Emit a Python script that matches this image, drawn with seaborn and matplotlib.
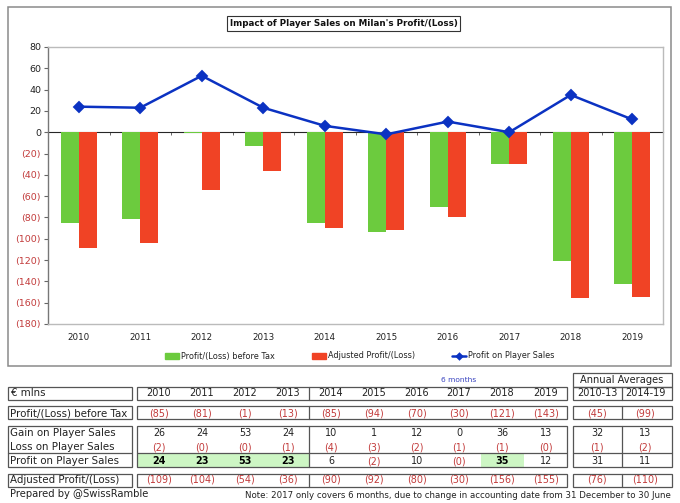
import pandas as pd
import numpy as np
import matplotlib
matplotlib.use('Agg')
import matplotlib.pyplot as plt
from matplotlib.patches import Rectangle
import seaborn as sns

# data
years = ['2010', '2011', '2012', '2013', '2014', '2015', '2016', '2017', '2018', '2019']
profit_before_tax = [-85, -81, -1, -13, -85, -94, -70, -30, -121, -142]
adjusted_profit = [-109, -104, -54, -36, -90, -92, -80, -30, -156, -155]
player_sales = [24, 23, 53, 23, 6, -2, 10, 0, 35, 12]
y_ticks = [80, 60, 40, 20, 0, -20, -40, -60, -80, -100, -120, -140, -160, -180]

# table rows, last two columns are the averages
row_labels = ['Profit/(Loss) before Tax', 'Gain on Player Sales', 'Loss on Player Sales',
              'Profit on Player Sales', 'Adjusted Profit/(Loss)']
avg_headers = ['2010-13', '2014-19']
row_pl = ['(85)', '(81)', '(1)', '(13)', '(85)', '(94)', '(70)', '(30)', '(121)', '(143)', '(45)', '(99)']
row_gain = ['26', '24', '53', '24', '10', '1', '12', '0', '36', '13', '32', '13']
row_loss = ['(2)', '(0)', '(0)', '(1)', '(4)', '(3)', '(2)', '(1)', '(1)', '(0)', '(1)', '(2)']
row_profit = ['24', '23', '53', '23', '6', '(2)', '10', '(0)', '35', '12', '31', '11']
row_adj = ['(109)', '(104)', '(54)', '(36)', '(90)', '(92)', '(80)', '(30)', '(156)', '(155)', '(76)', '(110)']
bold_years = ['2010', '2011', '2012', '2013', '2018']

GREEN = '#6CCB3E'
RED = '#F04325'
BLUE = '#0B32C2'
TXT_RED = '#C23B3B'
TXT = '#222222'
EDGE = '#555555'

sns.set_style('white')
plt.rcParams['font.family'] = ['DejaVu Sans']

W, H = 680, 503
fig = plt.figure(figsize=(W / 100, H / 100), dpi=100)

# overlay in pixel coords for frame and table
bg = fig.add_axes([0, 0, 1, 1])
bg.set_xlim(0, W)
bg.set_ylim(H, 0)
bg.axis('off')

def box(x0, y0, x1, y1, fc='none', ec=EDGE, lw=0.9, z=2):
    bg.add_patch(Rectangle((x0, y0), x1 - x0, y1 - y0, facecolor=fc, edgecolor=ec, linewidth=lw, zorder=z))

box(8, 7, 671, 366, ec='#8a8a8a', lw=1.1)

# main chart
ax = fig.add_axes([48 / W, 1 - 324 / H, 615 / W, 277 / H])
ax.patch.set_alpha(0)
df = pd.DataFrame({
    'year': years * 2,
    'value': profit_before_tax + adjusted_profit,
    'series': ['Profit/(Loss) before Tax'] * 10 + ['Adjusted Profit/(Loss)'] * 10,
})
sns.barplot(data=df, x='year', y='value', hue='series', palette=[GREEN, RED],
            width=0.585, gap=0, saturation=1, linewidth=0, ax=ax, legend=False, errorbar=None)
sns.pointplot(x=years, y=player_sales, color=BLUE, markers='D', markersize=5, linewidth=1.8,
              ax=ax, label='Profit on Player Sales', errorbar=None)
line_h = ax.get_legend_handles_labels()[0]
if ax.get_legend() is not None:
    ax.get_legend().remove()
ax.set_xlim(-0.5, 9.5)
ax.set_ylim(-180, 80)
ax.set_xlabel('')
ax.set_ylabel('')
ax.set_yticks(y_ticks)
ax.set_yticklabels([str(v) if v >= 0 else f'({-v})' for v in y_ticks], fontsize=6.8, color=TXT)
for lab, v in zip(ax.get_yticklabels(), y_ticks):
    if v < 0:
        lab.set_color(TXT_RED)
ax.tick_params(axis='y', left=True, length=3, width=0.8, color='#666666', pad=2)
ax.tick_params(axis='x', bottom=False, labelsize=6.3, labelcolor=TXT, pad=3)
for s in ['top', 'right', 'bottom']:
    ax.spines[s].set_color('#bbbbbb')
    ax.spines[s].set_linewidth(1)
ax.spines['left'].set_color('#777777')
ax.spines['left'].set_linewidth(1)

# zero line with the ticks between years
zero_axis = ax.secondary_xaxis(180 / 260)
zero_axis.set_xticks(np.arange(-0.5, 10, 1))
zero_axis.set_xticklabels([])
zero_axis.tick_params(direction='in', length=2, width=0.7, color='#666666')
zero_axis.spines['bottom'].set_color('#777777')
zero_axis.spines['bottom'].set_linewidth(0.9)

bars = [Rectangle((0, 0), 1, 1, color=GREEN), Rectangle((0, 0), 1, 1, color=RED)]
fig.legend(bars + line_h, ['Profit/(Loss) before Tax', 'Adjusted Profit/(Loss)', 'Profit on Player Sales'],
           loc='center', bbox_to_anchor=(359.5 / W, 1 - 356 / H), ncols=3, frameon=False,
           fontsize=5.9, labelcolor=TXT, handlelength=1.75, handleheight=0.7, handletextpad=0.2,
           columnspacing=4.5, borderpad=0, markerscale=0.6)

# title
bg.text(343.5, 23.5, "Impact of Player Sales on Milan's Profit/(Loss)", fontsize=6.3, fontweight='bold',
        ha='center', va='center', color='#111111',
        bbox=dict(boxstyle='square,pad=0.3', fc='white', ec='#333333', lw=0.8), zorder=5)

# table
col_x = [159, 202, 245, 288, 331, 374, 417, 459, 502, 546, 597, 645]
row_y = [413, 433, 447, 461, 480]
rows = [row_pl, row_gain, row_loss, row_profit, row_adj]
FS = 6.9

# green highlight
bg.add_patch(Rectangle((137, 453), 172, 14, facecolor='#CDF6C4', edgecolor='none', zorder=1))
bg.add_patch(Rectangle((481, 453), 43, 14, facecolor='#CDF6C4', edgecolor='none', zorder=1))

# label boxes
for y0, y1 in [(386.5, 399.5), (405.5, 419), (425.5, 467), (473.5, 487)]:
    box(8, y0, 132, y1)
    box(137, y0, 567, y1)
    box(573, y0, 671.5, y1)
    bg.plot([309, 309], [y0, y1], color=EDGE, lw=0.9, zorder=2)
    bg.plot([622, 622], [y0, y1], color=EDGE, lw=0.9, zorder=2)
for x0, x1 in [(8, 132), (137, 567), (573, 671.5)]:
    bg.plot([x0, x1], [453, 453], color=EDGE, lw=0.9, zorder=2)
box(573, 373, 671.5, 386.5)

bg.text(11, 393, '€ mlns', fontsize=7.35, color=TXT, va='center')
for lab, y in zip(row_labels, row_y):
    bg.text(10.5, y, lab, fontsize=7.35, color=TXT, va='center')
for yr, x in zip(years + avg_headers, col_x):
    bg.text(x, 393, yr, fontsize=7.0, color=TXT, ha='center', va='center')
bg.text(622, 380, 'Annual Averages', fontsize=7.15, color=TXT, ha='center', va='center')
bg.text(459, 380, '6 months', fontsize=5.4, color='#3A45C0', ha='center', va='center')

for vals, y in zip(rows, row_y):
    for i, (v, x) in enumerate(zip(vals, col_x)):
        c = TXT_RED if v.startswith('(') else TXT
        w = 'normal'
        if vals is row_profit and i < 10 and years[i] in bold_years:
            w = 'bold'
            c = 'black'
        bg.text(x, y, v, fontsize=FS, color=c, ha='center', va='center', fontweight=w)

bg.text(10.5, 494, 'Prepared by @SwissRamble', fontsize=7.2, color=TXT, va='center')
bg.text(671, 495, 'Note: 2017 only covers 6 months, due to change in accounting date from 31 December to 30 June',
        fontsize=6.25, color=TXT, ha='right', va='center')

fig.savefig('out.png', dpi=100, facecolor='white')
